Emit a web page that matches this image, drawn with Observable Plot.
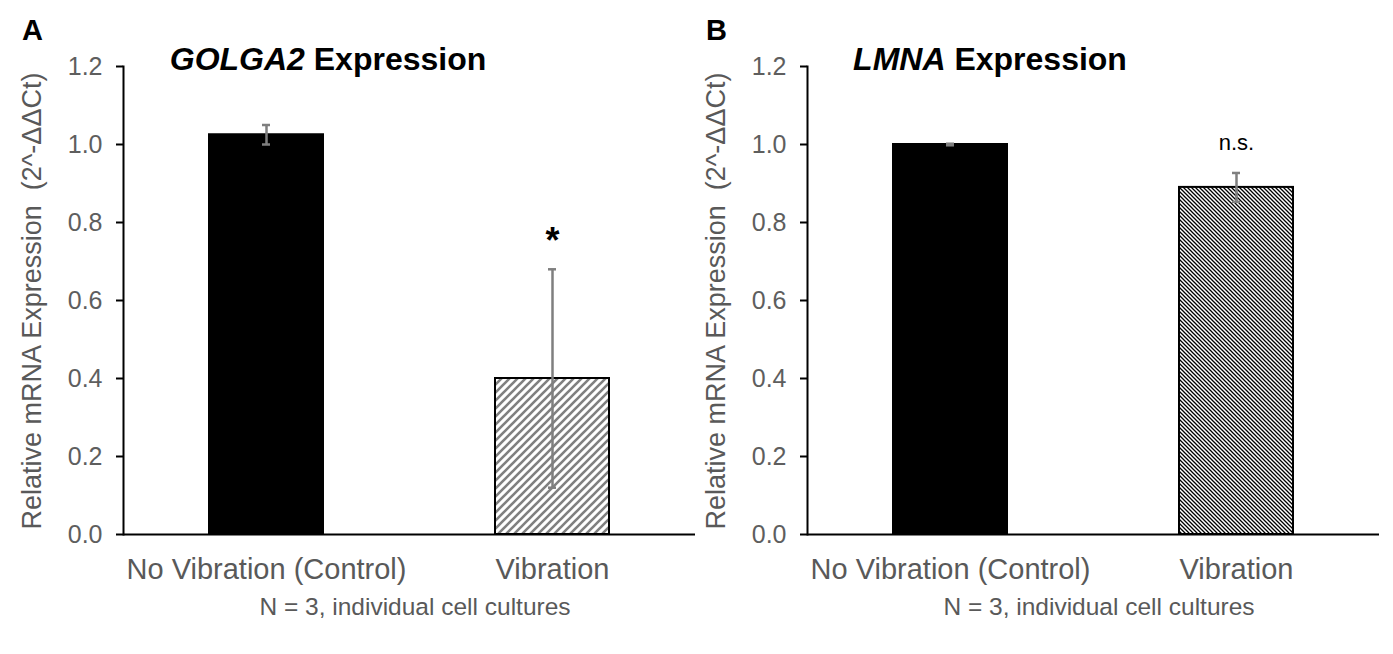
<!DOCTYPE html>
<html><head><meta charset="utf-8">
<script src="https://cdn.jsdelivr.net/npm/d3@7"></script>
<script src="https://cdn.jsdelivr.net/npm/@observablehq/plot@0.6"></script>
<style>
body{margin:0;background:#fff;font-family:"Liberation Sans",Arial,sans-serif;}
#root{position:relative;width:1393px;height:654px;overflow:hidden;background:#fff;}
.panel{position:absolute;top:0;width:697px;height:654px;}
.panel svg{position:absolute;left:0;top:0;}
.letter{position:absolute;left:22px;top:16px;font-size:29px;font-weight:bold;color:#000;line-height:1;}
.title{position:absolute;top:43px;font-size:32px;font-weight:bold;color:#000;transform:translateX(-50%);white-space:nowrap;line-height:1;}
.ylab{position:absolute;font-size:27px;color:#595959;white-space:pre;transform:translate(-50%,-50%) rotate(-90deg);line-height:1;}
.cap{position:absolute;top:595px;font-size:24.5px;color:#595959;transform:translateX(-50%);white-space:nowrap;line-height:1;}
</style></head><body><div id="root"></div>
<script>
// ---- data ----
const categories = ["No Vibration (Control)", "Vibration"];
const golga2Mean = [1.025, 0.40];
const golga2SD = [0.025, 0.28];
const golga2Sig = ["", "*"];
const lmnaMean = [1.0, 0.89];
const lmnaSD = [0.002, 0.037];
const lmnaSig = ["", "n.s."];
const yTicks = [0, 0.2, 0.4, 0.6, 0.8, 1.0, 1.2];
const yLabel = "Relative mRNA Expression  (2^-ΔΔCt)";
const captionText = "N = 3, individual cell cultures";

const root = document.getElementById("root");

function makePanel({left, letter, geneName, titleCenter, means, sds, sigs, patId, patSpec, sigFont, sigWeight, sigDy}) {
  const data = categories.map((c, i) => ({cat: c, mean: means[i], sd: sds[i], sig: sigs[i]}));
  const div = document.createElement("div");
  div.className = "panel";
  div.style.left = left + "px";
  root.appendChild(div);

  const svg = Plot.plot({
    width: 697, height: 654,
    marginLeft: 123, marginRight: 2, marginTop: 66, marginBottom: 120,
    style: {fontFamily: "Liberation Sans, Arial, sans-serif", background: "transparent", overflow: "visible"},
    x: {domain: categories, paddingInner: 0.6, paddingOuter: 0.3, label: null},
    y: {domain: [0, 1.2], label: null},
    marks: [
      Plot.barY(data.slice(0, 1), {x: "cat", y: "mean", fill: "black", stroke: "black", strokeWidth: 2}),
      Plot.barY(data.slice(1), {x: "cat", y: "mean", fill: `url(#${patId})`, stroke: "black", strokeWidth: 2}),
      Plot.ruleX(data, {x: "cat", y1: d => d.mean - d.sd, y2: d => d.mean + d.sd, stroke: "#7f7f7f", strokeWidth: 2.5}),
      Plot.tickY(data, {x: "cat", y: d => d.mean + d.sd, stroke: "#7f7f7f", strokeWidth: 2.5, insetLeft: 53, insetRight: 53}),
      Plot.tickY(data, {x: "cat", y: d => d.mean - d.sd, stroke: "#7f7f7f", strokeWidth: 2.5, insetLeft: 53, insetRight: 53}),
      Plot.text(data, {x: "cat", y: d => d.mean + d.sd, text: "sig", dy: sigDy, fontSize: sigFont, fontWeight: sigWeight, fill: "black"}),
      Plot.axisY({ticks: yTicks, tickFormat: d3.format(".1f"), tickSize: 7, tickPadding: 14, fontSize: 25, fill: "#5e5e5e", stroke: "black", strokeWidth: 2, label: null}),
      Plot.axisX({tickSize: 0, tickPadding: 24, fontSize: 29, fill: "#595959", label: null}),
      Plot.ruleY([0], {stroke: "black", strokeWidth: 2}),
      Plot.frame({anchor: "left", stroke: "black", strokeWidth: 2})
    ]
  });

  // hatch pattern defs
  const defs = d3.select(svg).insert("defs", ":first-child");
  const pat = defs.append("pattern")
    .attr("id", patId)
    .attr("patternUnits", "userSpaceOnUse")
    .attr("width", patSpec.size).attr("height", patSpec.size);
  pat.append("rect").attr("width", patSpec.size).attr("height", patSpec.size).attr("fill", "white");
  pat.append("path").attr("d", patSpec.d).attr("stroke", patSpec.color).attr("stroke-width", patSpec.width).attr("fill", "none");

  div.appendChild(svg);

  const l = document.createElement("div");
  l.className = "letter"; l.textContent = letter; div.appendChild(l);

  const t = document.createElement("div");
  t.className = "title"; t.style.left = titleCenter + "px";
  const it = document.createElement("i"); it.textContent = geneName;
  t.appendChild(it); t.appendChild(document.createTextNode(" Expression"));
  div.appendChild(t);

  const yl = document.createElement("div");
  yl.className = "ylab"; yl.textContent = yLabel;
  yl.style.left = "32px"; yl.style.top = "301px";
  div.appendChild(yl);

  const cp = document.createElement("div");
  cp.className = "cap"; cp.textContent = captionText; cp.style.left = "415px";
  div.appendChild(cp);
}

makePanel({
  left: 0, letter: "A", geneName: "GOLGA2", titleCenter: 328,
  means: golga2Mean, sds: golga2SD, sigs: golga2Sig,
  patId: "hatchA",
  patSpec: {size: 8, d: "M-2,2 L2,-2 M0,8 L8,0 M6,10 L10,6", color: "#808080", width: 2.6},
  sigFont: 36, sigWeight: "bold", sigDy: -28
});
makePanel({
  left: 684, letter: "B", geneName: "LMNA", titleCenter: 306,
  means: lmnaMean, sds: lmnaSD, sigs: lmnaSig,
  patId: "hatchB",
  patSpec: {size: 4, d: "M-1,-1 L5,5 M-1,3 L1,5 M3,-1 L5,1", color: "black", width: 1.3},
  sigFont: 22, sigWeight: "normal", sigDy: -30
});
</script></body></html>
